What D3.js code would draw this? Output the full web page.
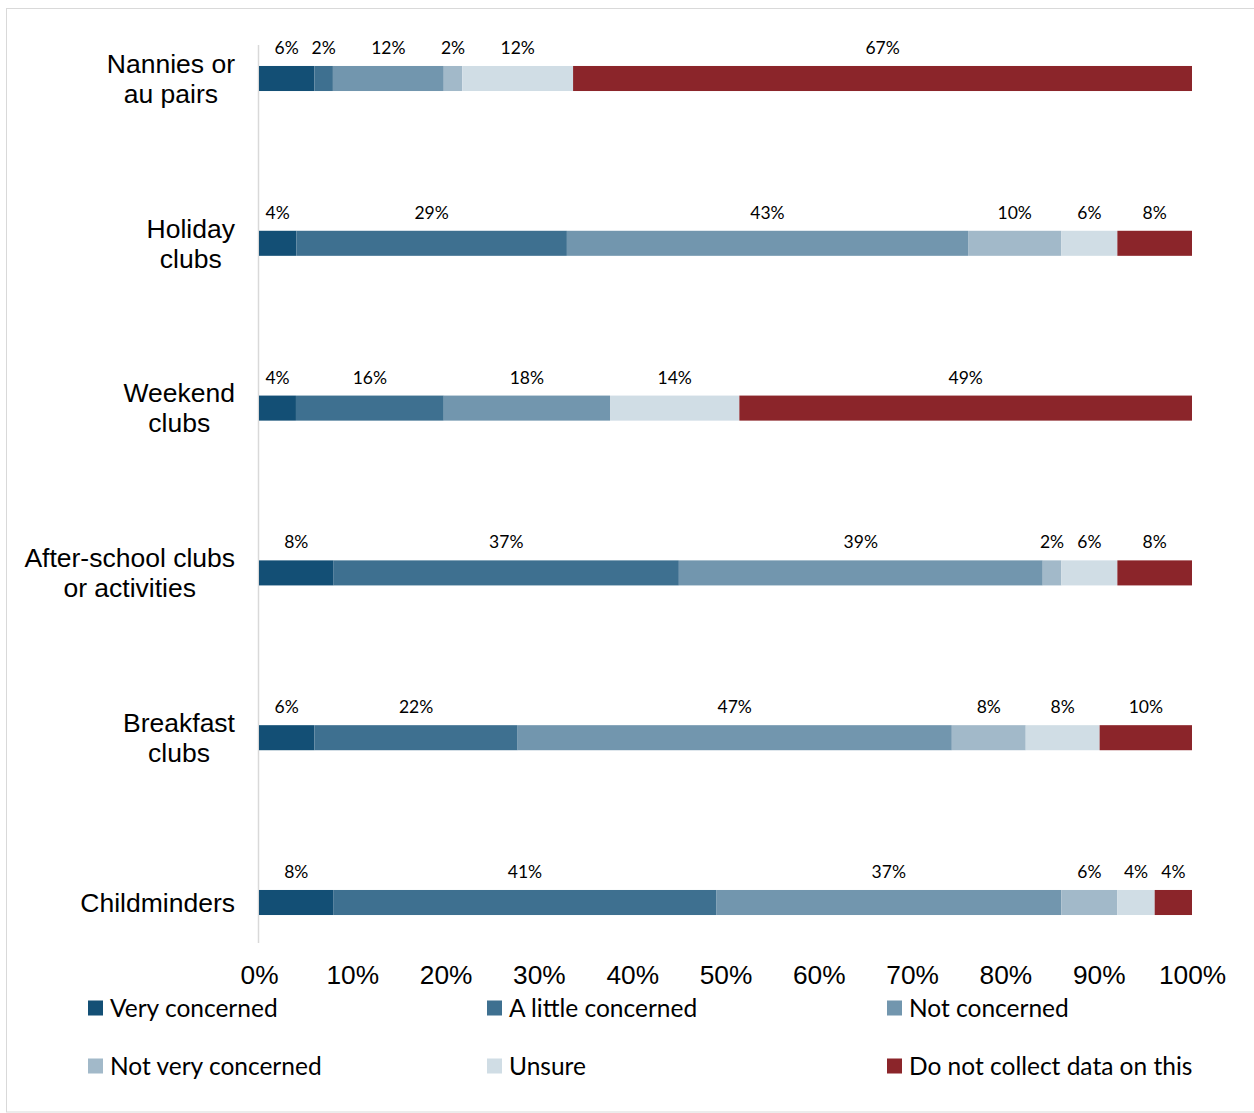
<!DOCTYPE html>
<html>
<head>
<meta charset="utf-8">
<script src="https://cdn.jsdelivr.net/npm/d3@7"></script>
<style>
  html, body { margin: 0; padding: 0; background: #fff; }
  svg { display: block; }
</style>
</head>
<body>
<svg id="chart" width="1254" height="1113"></svg>
<script>
// Provider types, top to bottom
const categories = [
  ["Nannies or", "au pairs"],
  ["Holiday", "clubs"],
  ["Weekend", "clubs"],
  ["After-school clubs", "or activities"],
  ["Breakfast", "clubs"],
  ["Childminders"]
];

// Response series, in stacking order
const seriesNames = [
  "Very concerned",
  "A little concerned",
  "Not concerned",
  "Not very concerned",
  "Unsure",
  "Do not collect data on this"
];

// Percent values per provider type, one array per series
const veryConcerned    = [6, 4, 4, 8, 6, 8];
const littleConcerned  = [2, 29, 16, 37, 22, 41];
const notConcerned     = [12, 43, 18, 39, 47, 37];
const notVeryConcerned = [2, 10, 0, 2, 8, 6];
const unsure           = [12, 6, 14, 6, 8, 4];
const doNotCollect     = [67, 8, 49, 8, 10, 4];

const xTicks = [0, 0.1, 0.2, 0.3, 0.4, 0.5, 0.6, 0.7, 0.8, 0.9, 1.0];

const colors = ["#134f75", "#3e7090", "#7296ae", "#a2b9c9", "#d0dde5", "#8b252a"];

const seriesValues = [veryConcerned, littleConcerned, notConcerned, notVeryConcerned, unsure, doNotCollect];
const rows = categories.map((c, i) => {
  const r = { key: i };
  seriesNames.forEach((s, j) => { r[s] = seriesValues[j][i]; });
  return r;
});

const svg = d3.select("#chart");

// outer frame
svg.append("rect")
  .attr("x", 6.5).attr("y", 8.5)
  .attr("width", 1254).attr("height", 1103.5)
  .attr("fill", "none").attr("stroke", "#d9d9d9").attr("stroke-width", 1);

const plot = { left: 259, right: 1192, top: 45, bottom: 943 };

const x = d3.scaleLinear().domain([0, 1]).range([plot.left, plot.right]);
const y = d3.scaleBand()
  .domain(d3.range(categories.length))
  .range([-3.9, 984.9])
  .paddingInner(0.848)
  .paddingOuter(0.424);

// 100% stacked layout
const stack = d3.stack().keys(seriesNames).offset(d3.stackOffsetExpand);
const stacked = stack(rows);

// vertical category axis line
svg.append("line")
  .attr("x1", plot.left - 0.5).attr("x2", plot.left - 0.5)
  .attr("y1", plot.top).attr("y2", plot.bottom)
  .attr("stroke", "#d9d9d9").attr("stroke-width", 1.5);

// stacked segments
const layers = svg.append("g").selectAll("g")
  .data(stacked)
  .join("g")
  .attr("fill", (d, i) => colors[i]);

layers.selectAll("rect")
  .data(d => d)
  .join("rect")
  .attr("x", d => x(d[0]))
  .attr("y", (d, i) => y(i))
  .attr("width", d => Math.max(0, x(d[1]) - x(d[0])))
  .attr("height", y.bandwidth());

// value labels above each segment
const labelFont = "Lato, 'Open Sans', sans-serif";
stacked.forEach((layer, j) => {
  svg.append("g").selectAll("text")
    .data(layer.filter(d => d.data[seriesNames[j]] > 0))
    .join("text")
    .attr("x", d => x((d[0] + d[1]) / 2))
    .attr("y", d => y(d.data.key) - 12)
    .attr("text-anchor", "middle")
    .attr("font-family", labelFont)
    .attr("font-size", 17.5)
    .attr("fill", "#000")
    .text(d => d.data[seriesNames[j]] + "%");
});

// category labels: multi-line, lines centred on each other, block right-aligned
const catFont = "'Liberation Sans', Arial, sans-serif";
categories.forEach((lines, i) => {
  const cy = y(i) + y.bandwidth() / 2;
  const g = svg.append("g");
  const lh = 30;
  const texts = lines.map((line, k) => g.append("text")
    .attr("y", cy + (k - (lines.length - 1) / 2) * lh)
    .attr("dy", "0.35em")
    .attr("text-anchor", "middle")
    .attr("font-family", catFont)
    .attr("font-size", 26.5)
    .attr("fill", "#000")
    .text(line));
  const w = d3.max(texts, t => t.node().getComputedTextLength());
  texts.forEach(t => t.attr("x", 235 - w / 2));
});

// x axis tick labels
const xAxis = d3.axisBottom(x)
  .tickValues(xTicks)
  .tickFormat(d3.format(".0%"))
  .tickSize(0)
  .tickPadding(0);
const ax = svg.append("g")
  .attr("transform", `translate(0, ${plot.bottom + 22})`)
  .call(xAxis);
ax.select(".domain").remove();
ax.selectAll("text")
  .attr("font-family", catFont)
  .attr("font-size", 26.3)
  .attr("fill", "#000");

// legend: three columns, two rows
const legendCols = [88, 487, 887];
const legendRows = [1008, 1066];
const legend = svg.append("g").selectAll("g")
  .data(seriesNames)
  .join("g")
  .attr("transform", (d, i) => `translate(${legendCols[i % 3]}, ${legendRows[Math.floor(i / 3)]})`);
legend.append("rect")
  .attr("x", 0).attr("y", -7.5)
  .attr("width", 15).attr("height", 15)
  .attr("fill", (d, i) => colors[i]);
legend.append("text")
  .attr("x", 22).attr("y", 0)
  .attr("dy", "0.35em")
  .attr("font-family", labelFont)
  .attr("font-size", 24.5)
  .attr("fill", "#000")
  .text(d => d);
</script>
</body>
</html>
